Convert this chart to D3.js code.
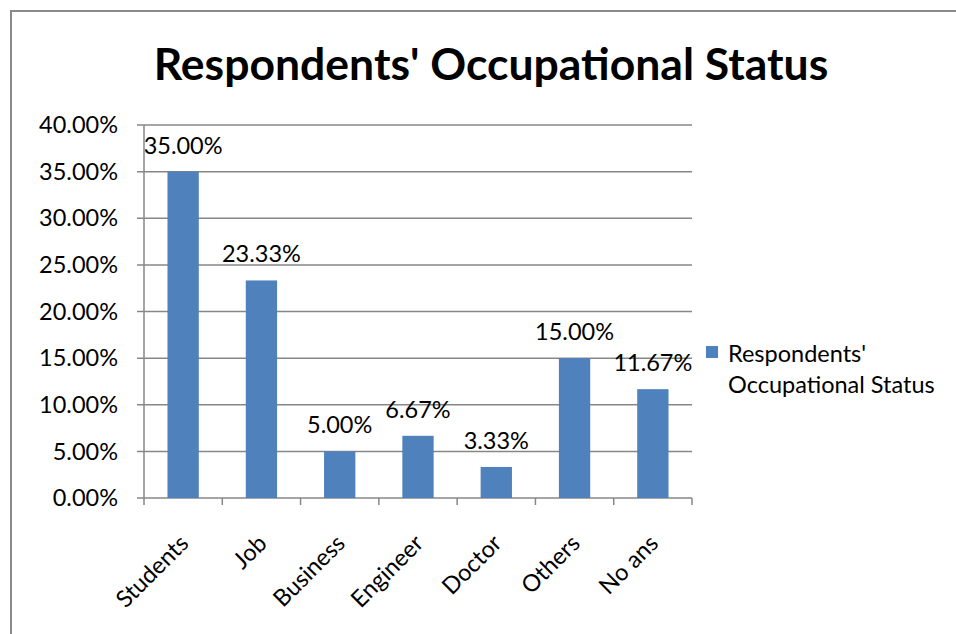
<!DOCTYPE html>
<html>
<head>
<meta charset="utf-8">
<script src="https://cdn.jsdelivr.net/npm/d3@7"></script>
<style>
  body { margin: 0; background: #fff; }
  svg { display: block; font-family: Lato, "Open Sans", sans-serif; }
</style>
</head>
<body>
<div id="chart"></div>
<script>
// Chart data
var categories = ["Students", "Job", "Business", "Engineer", "Doctor", "Others", "No ans"];
var values = [35.00, 23.33, 5.00, 6.67, 3.33, 15.00, 11.67];
var yTicks = [0, 5, 10, 15, 20, 25, 30, 35, 40];
var seriesName = "Respondents' Occupational Status";
var legendLines = ["Respondents'", "Occupational Status"];

var width = 956, height = 634;
var margin = { left: 144, right: 264, top: 125, bottom: 136 };
var barColor = "#4F81BD";
var gridColor = "#878787";
var fontSize = 23.5;

var svg = d3.select("#chart").append("svg")
    .attr("width", width)
    .attr("height", height);

// Outer chart frame (only top and left edges visible)
svg.append("path")
    .attr("d", "M11," + height + "V11H" + width)
    .attr("fill", "none")
    .attr("stroke", "#8a8a8a")
    .attr("stroke-width", 2);

// Title
svg.append("text")
    .attr("x", 491)
    .attr("y", 80)
    .attr("text-anchor", "middle")
    .attr("font-size", 44.5)
    .attr("font-weight", "bold")
    .attr("fill", "#000")
    .text(seriesName);

var x = d3.scaleBand()
    .domain(categories)
    .range([margin.left, width - margin.right])
    .paddingInner(0.6)
    .paddingOuter(0.3);

var xOuter = d3.scaleBand()
    .domain(categories)
    .range([margin.left, width - margin.right]);

var y = d3.scaleLinear()
    .domain([0, 40])
    .range([height - margin.bottom, margin.top]);

// Horizontal grid lines
svg.append("g")
    .selectAll("line")
    .data(yTicks)
    .enter().append("line")
    .attr("x1", margin.left - 7)
    .attr("x2", width - margin.right)
    .attr("y1", d => y(d))
    .attr("y2", d => y(d))
    .attr("stroke", gridColor)
    .attr("stroke-width", 1.5);

// Y axis labels
svg.append("g")
    .selectAll("text")
    .data(yTicks)
    .enter().append("text")
    .attr("x", 118)
    .attr("y", d => y(d))
    .attr("dy", "0.35em")
    .attr("text-anchor", "end")
    .attr("font-size", fontSize)
    .attr("fill", "#000")
    .text(d => d.toFixed(2) + "%");

// Bars
svg.append("g")
    .selectAll("rect")
    .data(values)
    .enter().append("rect")
    .attr("x", (d, i) => x(categories[i]))
    .attr("width", x.bandwidth())
    .attr("y", d => y(d))
    .attr("height", d => y(0) - y(d))
    .attr("fill", barColor);

// Value labels
svg.append("g")
    .selectAll("text")
    .data(values)
    .enter().append("text")
    .attr("x", (d, i) => x(categories[i]) + x.bandwidth() / 2)
    .attr("y", d => y(d) - 18)
    .attr("text-anchor", "middle")
    .attr("font-size", fontSize)
    .attr("fill", "#000")
    .text(d => d.toFixed(2) + "%");

// Category boundary ticks below the axis
var edges = d3.range(categories.length + 1).map(i => margin.left + i * xOuter.step());
svg.append("g")
    .selectAll("line")
    .data(edges)
    .enter().append("line")
    .attr("x1", d => d).attr("x2", d => d)
    .attr("y1", y(0)).attr("y2", y(0) + 7)
    .attr("stroke", gridColor)
    .attr("stroke-width", 1.5);

// Y axis line
svg.append("line")
    .attr("x1", margin.left).attr("x2", margin.left)
    .attr("y1", margin.top).attr("y2", y(0))
    .attr("stroke", gridColor)
    .attr("stroke-width", 1.5);

// X category labels, rotated
svg.append("g")
    .selectAll("text")
    .data(categories)
    .enter().append("text")
    .attr("transform", d => "translate(" + (xOuter(d) + xOuter.bandwidth() / 2 + 1) + "," + (y(0) + 41) + ") rotate(-45)")
    .attr("text-anchor", "end")
    .attr("dy", "0.35em")
    .attr("font-size", fontSize)
    .attr("fill", "#000")
    .text(d => d);

// Legend
var legend = svg.append("g");
legend.append("rect")
    .attr("x", 706).attr("y", 346)
    .attr("width", 12).attr("height", 12)
    .attr("fill", barColor);
legend.selectAll("text")
    .data(legendLines)
    .enter().append("text")
    .attr("x", 728)
    .attr("y", (d, i) => 362 + i * 31)
    .attr("font-size", fontSize)
    .attr("fill", "#000")
    .text(d => d);
</script>
</body>
</html>
